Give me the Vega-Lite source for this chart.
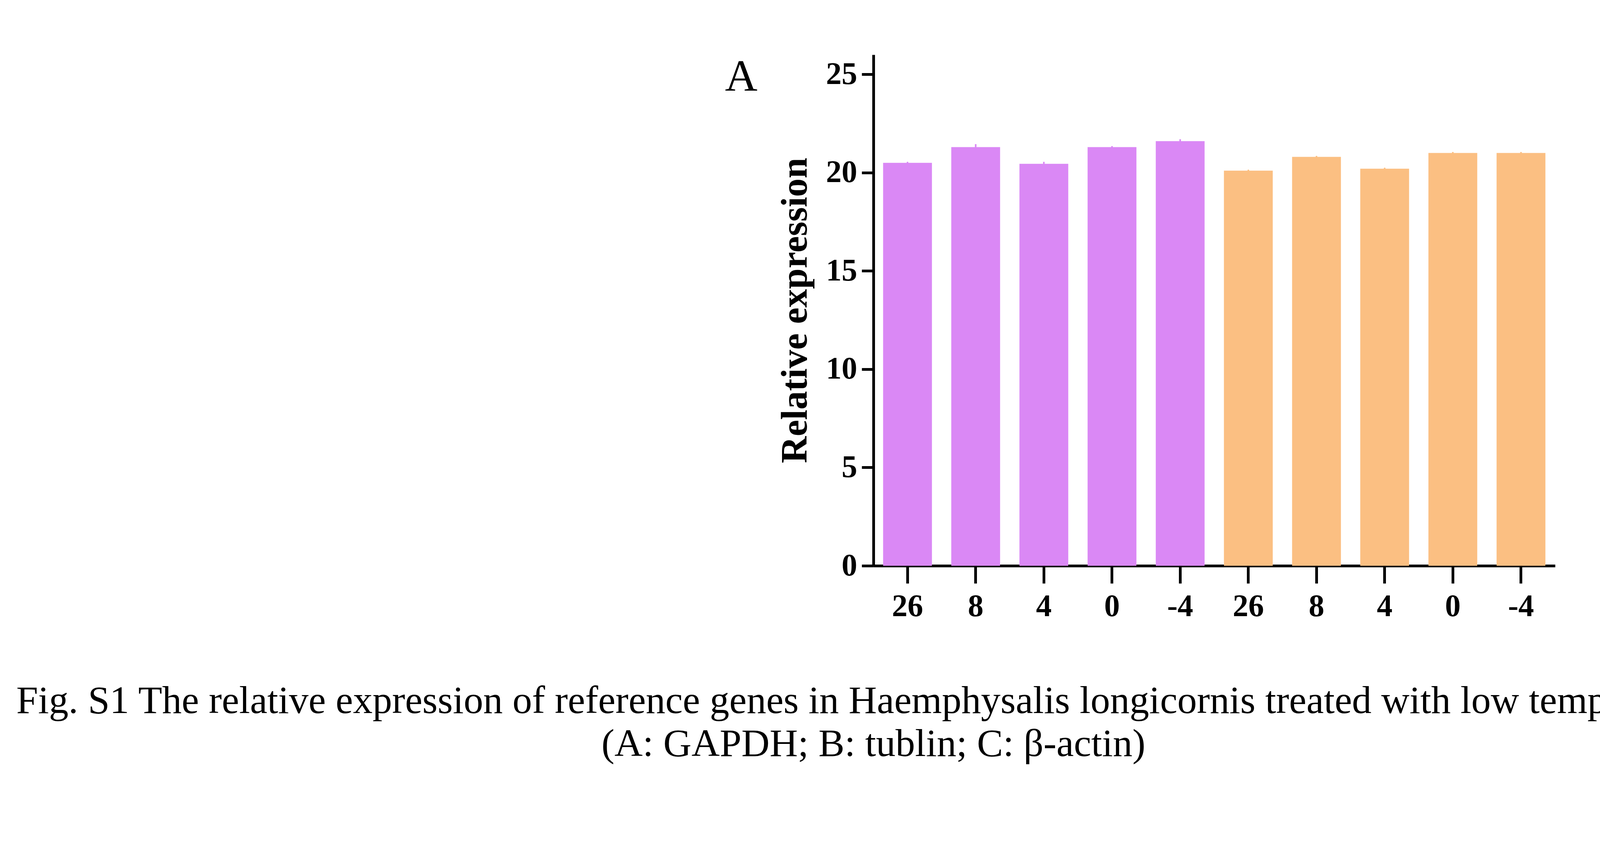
{
"$schema":"https://vega.github.io/schema/vega-lite/v6.json",
"background":"white",
"padding":{"left":40,"top":100,"right":20,"bottom":20},
"title":{"text":"Fig. S1 The relative expression of reference genes in Haemphysalis longicornis treated with low temperatures","subtitle":"(A: GAPDH; B: tublin; C: β-actin)","orient":"bottom","anchor":"middle","font":"Liberation Serif","fontSize":100,"fontWeight":"normal","subtitleFont":"Liberation Serif","subtitleFontSize":100,"subtitleColor":"black","color":"black","offset":40,"subtitlePadding":10},
"datasets":{
"A":[{"pos":1,"g":"treatment for 3 days","v":20.5,"lo":20.45,"hi":20.55},{"pos":2,"g":"treatment for 3 days","v":21.3,"lo":21.2,"hi":21.45},{"pos":3,"g":"treatment for 3 days","v":20.45,"lo":20.4,"hi":20.55},{"pos":4,"g":"treatment for 3 days","v":21.3,"lo":21.25,"hi":21.35},{"pos":5,"g":"treatment for 3 days","v":21.6,"lo":21.55,"hi":21.7},{"pos":6,"g":"treatment for 6 days","v":20.1,"lo":20.05,"hi":20.15},{"pos":7,"g":"treatment for 6 days","v":20.8,"lo":20.75,"hi":20.85},{"pos":8,"g":"treatment for 6 days","v":20.2,"lo":20.15,"hi":20.25},{"pos":9,"g":"treatment for 6 days","v":21.0,"lo":20.95,"hi":21.05},{"pos":10,"g":"treatment for 6 days","v":21.0,"lo":20.95,"hi":21.05}],
"B":[{"pos":1,"g":"treatment for 3 days","v":24.2,"lo":24.1,"hi":24.3},{"pos":2,"g":"treatment for 3 days","v":26.3,"lo":26.2,"hi":26.4},{"pos":3,"g":"treatment for 3 days","v":24.9,"lo":24.8,"hi":25.0},{"pos":4,"g":"treatment for 3 days","v":26.1,"lo":26.0,"hi":26.2},{"pos":5,"g":"treatment for 3 days","v":26.3,"lo":26.2,"hi":26.4},{"pos":6,"g":"treatment for 6 days","v":25.0,"lo":24.9,"hi":25.1},{"pos":7,"g":"treatment for 6 days","v":26.1,"lo":26.0,"hi":26.2},{"pos":8,"g":"treatment for 6 days","v":24.1,"lo":24.0,"hi":24.2},{"pos":9,"g":"treatment for 6 days","v":24.0,"lo":23.9,"hi":24.1},{"pos":10,"g":"treatment for 6 days","v":24.7,"lo":24.6,"hi":24.8}],
"C":[{"pos":1,"g":"treatment for 3 days","v":17.9,"lo":17.85,"hi":17.95},{"pos":2,"g":"treatment for 3 days","v":18.8,"lo":18.75,"hi":18.85},{"pos":3,"g":"treatment for 3 days","v":18.1,"lo":18.05,"hi":18.15},{"pos":4,"g":"treatment for 3 days","v":18.9,"lo":18.85,"hi":18.95},{"pos":5,"g":"treatment for 3 days","v":18.35,"lo":18.3,"hi":18.4},{"pos":6,"g":"treatment for 6 days","v":17.3,"lo":17.2,"hi":17.45},{"pos":7,"g":"treatment for 6 days","v":18.05,"lo":18.0,"hi":18.1},{"pos":8,"g":"treatment for 6 days","v":17.95,"lo":17.9,"hi":18.0},{"pos":9,"g":"treatment for 6 days","v":18.2,"lo":18.1,"hi":18.3},{"pos":10,"g":"treatment for 6 days","v":17.85,"lo":17.8,"hi":17.9}]
},
"config":{
"view":{"stroke":null},
"axis":{"labelFont":"Liberation Serif","titleFont":"Liberation Serif","labelFontWeight":"bold","titleFontWeight":"bold","labelFontSize":80,"titleFontSize":95,"labelColor":"black","titleColor":"black","domainColor":"black","tickColor":"black","domainWidth":7,"tickWidth":7,"tickSize":30,"grid":false,"labelPadding":12},
"axisX":{"labelAngle":0,"tickSize":45,"labelPadding":20,"titlePadding":10},
"axisY":{"titlePadding":30},
"title":{"font":"Liberation Serif","fontSize":115,"fontWeight":"normal","color":"black","anchor":"start","frame":"group"}
},
"hconcat":[
{"width":1745,"height":1308,"data":{"name":"A"},
"title":{"text":"A","dx":-380,"dy":120},
"layer":[
{"mark":{"type":"bar","width":125},"encoding":{"x":{"field":"pos","type":"ordinal","axis":{"title":null,"labelExpr":"['26','8','4','0','-4','26','8','4','0','-4'][datum.value-1]"}},"y":{"field":"v","type":"quantitative","scale":{"domain":[0,25]},"axis":{"values":[0,5,10,15,20,25],"title":"Relative expression"}},"color":{"field":"g","type":"nominal","scale":{"range":["#DA88F5","#FBBF82"]},"legend":null}}},
{"mark":{"type":"rule","strokeWidth":4},"encoding":{"x":{"field":"pos","type":"ordinal"},"y":{"field":"lo","type":"quantitative"},"y2":{"field":"hi"},"color":{"field":"g","type":"nominal","legend":null}}}
]},
{"width":2090,"height":1308,"data":{"name":"B"},
"title":{"text":"B","dx":-290,"dy":120},
"layer":[
{"mark":{"type":"bar","width":130},"encoding":{"x":{"field":"pos","type":"ordinal","axis":{"title":"Treatment temperature (°C)","titleFontSize":105,"labelExpr":"['26','8','4','0','-4','26','8','4','0','-4'][datum.value-1]"}},"y":{"field":"v","type":"quantitative","scale":{"domain":[0,30]},"axis":{"values":[0,10,20,30],"title":"Relative expression"}},"color":{"field":"g","type":"nominal","scale":{"range":["#DA88F5","#FBBF82"]},"legend":{"title":null,"orient":"none","legendX":60,"legendY":-45,"direction":"horizontal","symbolType":"square","symbolSize":7000,"symbolStrokeWidth":0,"labelFont":"Liberation Serif","labelFontSize":80,"labelColor":"black","columnPadding":40,"labelLimit":1500}}}},
{"mark":{"type":"rule","strokeWidth":4},"encoding":{"x":{"field":"pos","type":"ordinal"},"y":{"field":"lo","type":"quantitative"},"y2":{"field":"hi"},"color":{"field":"g","type":"nominal","legend":null}}}
]},
{"width":2010,"height":1308,"data":{"name":"C"},
"title":{"text":"C","dx":-380,"dy":120},
"layer":[
{"mark":{"type":"bar","width":125},"encoding":{"x":{"field":"pos","type":"ordinal","axis":{"title":null,"labelExpr":"['26','8','4','0','-4','26','8','4','0','-4'][datum.value-1]"}},"y":{"field":"v","type":"quantitative","scale":{"domain":[0,20]},"axis":{"values":[0,5,10,15,20],"title":"Relative expression"}},"color":{"field":"g","type":"nominal","scale":{"range":["#DA88F5","#FBBF82"]},"legend":null}}},
{"mark":{"type":"rule","strokeWidth":4},"encoding":{"x":{"field":"pos","type":"ordinal"},"y":{"field":"lo","type":"quantitative"},"y2":{"field":"hi"},"color":{"field":"g","type":"nominal","legend":null}}}
]}
],
"spacing":200
}
